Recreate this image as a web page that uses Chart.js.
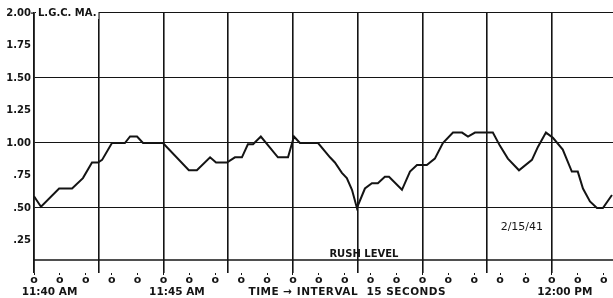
<!DOCTYPE html>
<html>
<head>
<meta charset="utf-8">
<script src="https://cdn.jsdelivr.net/npm/chart.js@4.4.1/dist/chart.umd.min.js"></script>
<style>
  html, body { margin: 0; padding: 0; background: #fff; }
</style>
</head>
<body>
<canvas id="lgcChart" width="613" height="298"></canvas>
<script>
// minutes after 11:40 AM (one reading every 15 s, kept at the corners)
var minutes = [0, 0.27, 0.97, 1.47, 1.89, 2.24, 2.47, 2.63, 3.01, 3.51, 3.71, 3.98, 4.21, 4.98,
  5.98, 6.29, 6.80, 7.03, 7.45, 7.76, 8.03, 8.26, 8.46, 8.76, 9.42, 9.81, 10.04, 10.27, 10.97,
  11.43, 11.62, 11.89, 12.08, 12.28, 12.47, 12.78, 13.05, 13.28, 13.55, 13.71, 14.21, 14.52,
  14.79, 15.17, 15.48, 15.79, 16.18, 16.53, 16.76, 17.03, 17.72, 17.99, 18.30, 18.73, 19.23,
  19.46, 19.77, 20.04, 20.42, 20.77, 21.00, 21.20, 21.47, 21.74, 21.97, 22.32];
// L.G.C. current in mA
var lgcMa = [0.59, 0.51, 0.65, 0.65, 0.73, 0.85, 0.85, 0.87, 1.00, 1.00, 1.05, 1.05, 1.00, 1.00,
  0.79, 0.79, 0.89, 0.85, 0.85, 0.89, 0.89, 0.99, 0.99, 1.05, 0.89, 0.89, 1.05, 1.00, 1.00,
  0.89, 0.85, 0.77, 0.73, 0.64, 0.50, 0.65, 0.69, 0.69, 0.74, 0.74, 0.64, 0.78,
  0.83, 0.83, 0.88, 1.00, 1.08, 1.08, 1.05, 1.08, 1.08, 0.98, 0.88, 0.79, 0.87,
  0.97, 1.08, 1.04, 0.95, 0.78, 0.78, 0.65, 0.55, 0.50, 0.50, 0.60];
var rushLevel = 0.1;

var timeLabels = ['11:40 AM', '11:45 AM', '12:00 PM'];
var timeLabelAt = [0.6, 5.52, 20.5];   // minutes, where each label is centred
var axisNote = 'TIME \u2192 INTERVAL  15 SECONDS';
var xMax = 22.36;

var ink = '#141414';
var fontFam = '"DejaVu Sans", sans-serif';

// texts written on the chart
var notesPlugin = {
  id: 'notes',
  afterDraw: function (chart) {
    var c = chart.ctx, x = chart.scales.x, y = chart.scales.y;
    c.save();
    c.fillStyle = ink;
    c.textBaseline = 'middle';

    // unit label sits on the 2.00 line
    c.font = 'bold 10px ' + fontFam;
    var unit = 'L.G.C. MA.';
    var w = c.measureText(unit).width;
    c.fillStyle = '#fff';
    c.fillRect(x.left + 2, y.top - 6, w + 4, 12);
    c.fillStyle = ink;
    c.fillRect(x.left - 3, y.top - 0.5, 3, 1.2);   // little tick beside 2.00
    c.textAlign = 'left';
    c.fillText(unit, x.left + 4, y.top);

    c.textAlign = 'center';
    c.fillText('RUSH LEVEL', x.getPixelForValue(12.74), y.getPixelForValue(rushLevel + 0.04));
    c.font = '11px ' + fontFam;
    c.fillText('2/15/41', x.getPixelForValue(18.84), y.getPixelForValue(0.35));

    // time row under the tick marks
    c.font = 'bold 10.5px ' + fontFam;
    for (var i = 0; i < timeLabels.length; i++) {
      c.fillText(timeLabels[i], x.getPixelForValue(timeLabelAt[i]), 292);
    }
    c.letterSpacing = '0.5px';
    c.fillText(axisNote, x.getPixelForValue(12.1), 292);
    c.restore();
  }
};

var ctx = document.getElementById('lgcChart').getContext('2d');
var chart = new Chart(ctx, {
  type: 'line',
  data: {
    datasets: [{
      label: 'L.G.C. MA.',
      data: minutes.map(function (m, i) { return { x: m, y: lgcMa[i] }; }),
      borderColor: ink,
      borderWidth: 2,
      pointRadius: 0,
      tension: 0,
      xAxisID: 'x'
    }, {
      label: 'Rush level',
      data: [{ x: 0, y: rushLevel }, { x: xMax, y: rushLevel }],
      borderColor: ink,
      borderWidth: 1.6,
      pointRadius: 0,
      xAxisID: 'x'
    }]
  },
  options: {
    responsive: false,
    animation: false,
    layout: { padding: 0 },
    plugins: { legend: { display: false }, tooltip: { enabled: false } },
    scales: {
      x: {
        type: 'linear',
        min: 0,
        max: xMax,
        ticks: {
          stepSize: 1,
          includeBounds: false,
          autoSkip: false,
          maxRotation: 0,
          padding: -1,
          color: ink,
          font: { family: fontFam, size: 11, weight: 'bold' },
          callback: function () { return 'o'; }
        },
        grid: { drawOnChartArea: false, drawTicks: true, tickLength: 2, color: ink },
        border: { display: false },
        afterFit: function (s) { s.height = 25; }
      },
      xGrid: {
        type: 'linear',
        position: 'top',
        min: 0,
        max: xMax,
        ticks: { display: false, stepSize: 2.5, includeBounds: false },
        grid: { color: ink, lineWidth: 1.6, drawTicks: false },
        border: { display: false },
        afterFit: function (s) { s.height = 13; }
      },
      y: {
        min: 0,
        max: 2,
        ticks: {
          stepSize: 0.25,
          padding: 3,
          color: ink,
          font: { family: fontFam, size: 10, weight: 'bold' },
          callback: function (v) {
            if (v === 0) return '';
            var s = v.toFixed(2);
            return v < 1 ? s.slice(1) : s;
          }
        },
        grid: {
          drawTicks: false,
          lineWidth: 1.1,
          color: function (c) {
            var v = c.tick.value;
            return (v > 0 && v % 0.5 === 0) ? ink : 'rgba(0,0,0,0)';
          }
        },
        border: { display: true, color: ink, width: 1.6 },
        afterFit: function (s) { s.width = 34; }
      }
    }
  },
  plugins: [notesPlugin]
});
</script>
</body>
</html>
